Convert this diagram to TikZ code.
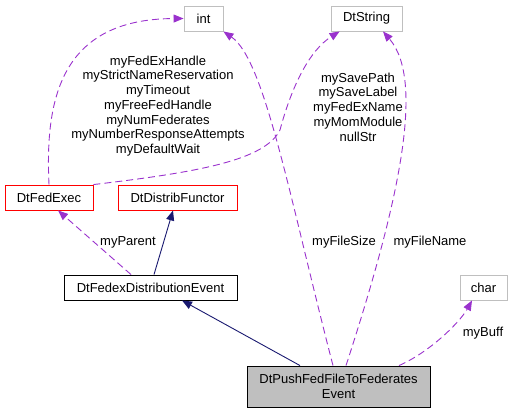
\documentclass[tikz,border=0pt]{standalone}
\usepackage{fontspec}
\setmainfont{Liberation Sans}
\usetikzlibrary{arrows.meta,calc}
\definecolor{depc}{HTML}{9A32CD}
\definecolor{inhc}{HTML}{191970}
\definecolor{gbord}{HTML}{BFBFBF}
\definecolor{pfill}{HTML}{BFBFBF}
\begin{document}
\begin{tikzpicture}[x=1pt,y=-1pt,font=\fontsize{13}{14.7}\selectfont,
  box/.style={draw,rectangle,inner sep=0pt,line width=0.9pt,align=center},
  graybox/.style={box,draw=gbord},
  redbox/.style={box,draw=red},
  dep/.style={draw=depc,dash pattern=on 7pt off 4pt,line width=0.9pt,-{Triangle[length=10pt,width=8pt]}},
  inh/.style={draw=inhc,line width=0.9pt,-{Triangle[length=10pt,width=8pt]}},
  lbl/.style={align=center,inner sep=0pt}]
\useasboundingbox (0,0) rectangle (513,413);
\node[graybox,minimum width=39pt,minimum height=25pt] (int) at (203.5,18.5) {int};
\node[graybox,minimum width=71pt,minimum height=25pt] (dtstring) at (366.5,18.5) {DtString};
\node[redbox,minimum width=88pt,minimum height=25pt] (fedexec) at (49,197.5) {DtFedExec};
\node[redbox,minimum width=119pt,minimum height=25pt] (dfunc) at (177.5,197.5) {DtDistribFunctor};
\node[box,minimum width=173pt,minimum height=25pt] (fdist) at (150.5,287.5) {DtFedexDistributionEvent};
\node[box,fill=pfill,minimum width=183pt,minimum height=41pt] (push) at (338.5,386.5) {DtPushFedFileToFederates\\Event};
\node[graybox,minimum width=47pt,minimum height=25pt] (char) at (483.5,287.5) {char};

\draw[dep] (fedexec.north) .. controls (45,100) and (60,19) .. (int.west);
\draw[dep] (fedexec.north east) .. controls (200,172) and (265,160) .. (280,130) .. controls (292,85) and (310,50) .. ($(dtstring.south west)+(9,0)$);
\draw[dep] ($(push.north)+(-5.5,0)$) .. controls (290,200) and (265,60) .. (int.south east);
\draw[dep] ($(push.north)+(7.5,0)$) .. controls (400,200) and (425,80) .. ($(dtstring.south)+(16.5,0)$);
\draw[dep] ($(fdist.north)+(-19.5,0)$) -- ($(fedexec.south)+(9,0)$);
\draw[inh] ($(fdist.north)+(3.5,0)$) -- ($(dfunc.south)+(-4.5,0)$);
\draw[inh] ($(push.north)+(-38.5,0)$) -- ($(fdist.south)+(31.5,0)$);
\draw[dep] ($(push.north)+(60.5,0)$) .. controls (430,352) and (460,322) .. ($(char.south)+(-11.5,0)$);

\node[lbl] (lint) at (158,106) {myFedExHandle\\myStrictNameReservation\\myTimeout\\myFreeFedHandle\\myNumFederates\\myNumberResponseAttempts\\myDefaultWait};
\node[lbl] (lstr) at (358,107) {mySavePath\\mySaveLabel\\myFedExName\\myMomModule\\nullStr};
\node[lbl] (lpar) at (128,242) {myParent};
\node[lbl] (lfs) at (344,242) {myFileSize};
\node[lbl] (lfn) at (430,242) {myFileName};
\node[lbl] (lbuf) at (483,333) {myBuff};
\end{tikzpicture}
\end{document}
